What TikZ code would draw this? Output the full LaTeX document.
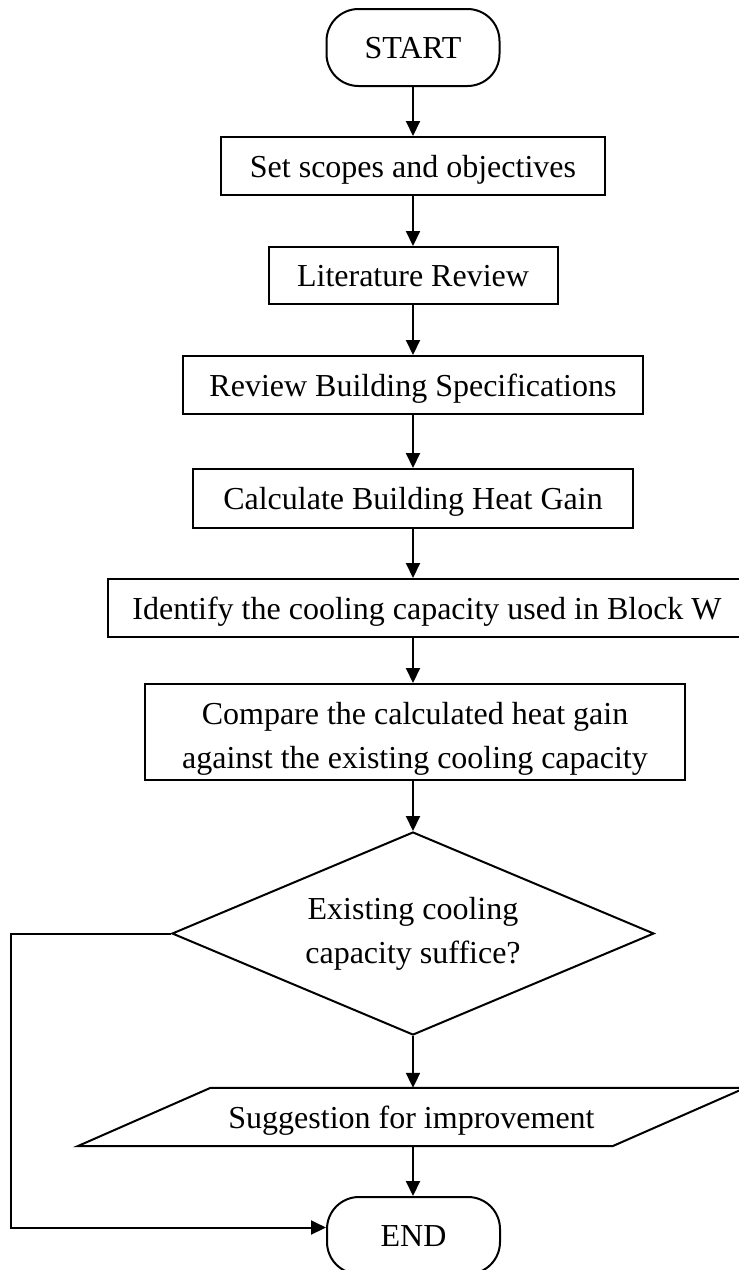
\documentclass[tikz,border=0pt]{standalone}
\usepackage{fontspec}
\setmainfont{Liberation Serif}
\usetikzlibrary{shapes.geometric,arrows.meta,calc}

\tikzset{
    box/.style={draw, line width=2pt, inner sep=0pt, align=center},
    procbox/.style={box, text height=22pt, text depth=0pt},
    termbox/.style={procbox, rounded corners=32pt, minimum width=173pt, minimum height=77pt},
    arr/.style={line width=2pt, -{Triangle[length=15pt,width=14pt]}},
}

\begin{document}
\begin{tikzpicture}[x=1pt, y=-1pt, font=\fontsize{32}{44}\selectfont]
    \useasboundingbox (0,0) rectangle (739,1270);

    % Start and process steps
    \node[termbox] (start) at (413,47.5) {START};
    \node[procbox, minimum width=384pt, minimum height=58pt] (set) at (413,166) {Set scopes and objectives};
    \node[procbox, minimum width=289pt, minimum height=57pt] (lit) at (413,275.5) {Literature Review};
    \node[procbox, minimum width=460pt, minimum height=58pt] (spec) at (413,385) {Review Building Specifications};
    \node[procbox, minimum width=440pt, minimum height=59pt] (heat) at (413,498.5) {Calculate Building Heat Gain};
    \node[procbox, minimum width=638pt, minimum height=58pt] (ident) at (427,608) {Identify the cooling capacity used in Block W};

    % Comparison box, text cut at the lower edge
    \node[box, minimum width=540pt, minimum height=96pt] (cmp) at (415,732) {};
    \begin{scope}
        \clip (145,684) rectangle (685,780);
        \node[align=center] (cmptext) at (415,739) {Compare the calculated heat gain\\against the existing cooling capacity};
    \end{scope}

    % Decision
    \node[box, diamond, aspect=2.37, minimum width=482pt, minimum height=203pt] (dec) at (413,933.5) {Existing cooling\\capacity suffice?};

    % Output (parallelogram) and end
    \node[text height=22pt, text depth=0pt, minimum width=534.5pt, minimum height=58pt, inner sep=0pt] (sug) at (411.5,1117) {Suggestion for improvement};
    \draw[line width=2pt] ([xshift=-66.5pt]sug.south west) -- ([xshift=66.5pt]sug.north west)
        -- ([xshift=66.5pt]sug.north east) -- ([xshift=-66.5pt]sug.south east) -- cycle;
    \node[termbox] (end) at (413.5,1235.5) {END};

    % Connectors
    \draw[arr] (start) -- (set);
    \draw[arr] (set) -- (lit);
    \draw[arr] (lit) -- (spec);
    \draw[arr] (spec) -- (heat);
    \draw[arr] (heat.south) -- (heat.south |- ident.north);
    \draw[arr] (ident.south -| heat) -- (cmp.north -| heat);
    \draw[arr] (cmp.south -| heat) -- (dec.north);
    \draw[arr] (dec.south) -- (dec.south |- sug.north);
    \draw[arr] (sug.south -| dec) -- (end.north -| dec);
    \draw[arr] (dec.west) -- ++(-160,0) |- ([yshift=8pt]end.west);
\end{tikzpicture}
\end{document}
